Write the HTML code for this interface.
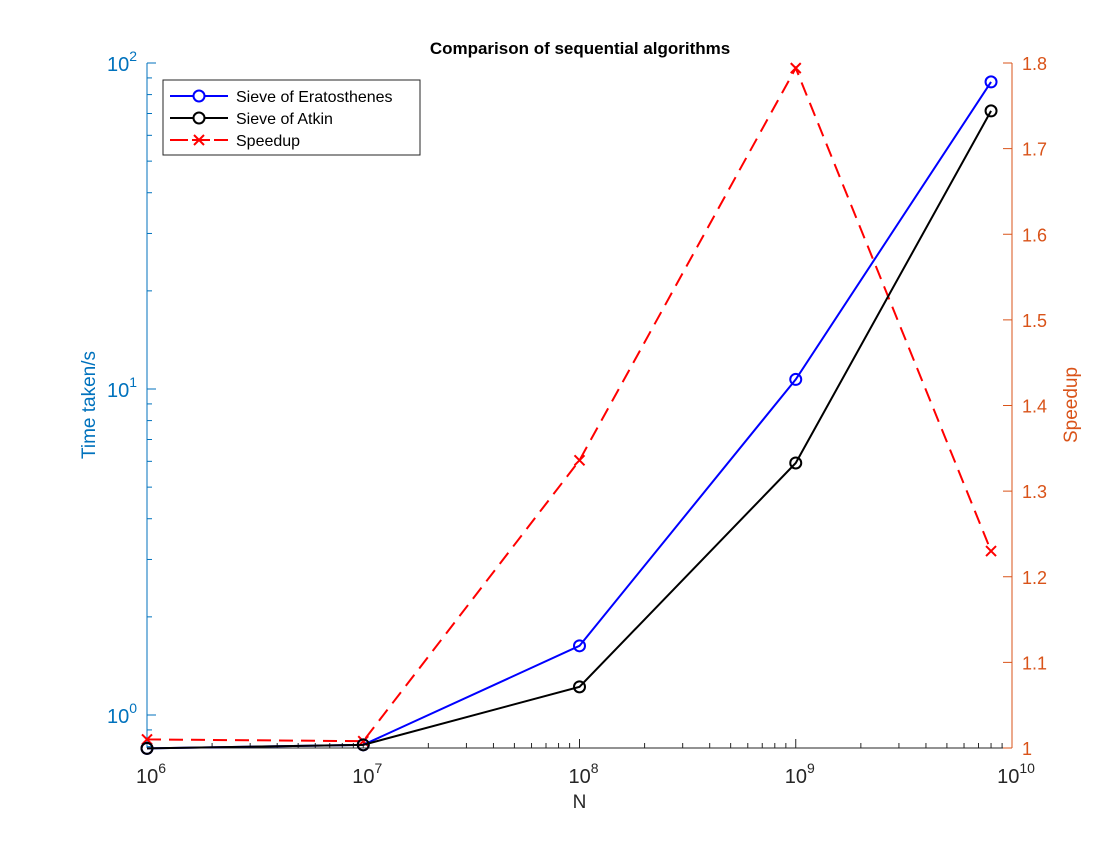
<!DOCTYPE html>
<html><head><meta charset="utf-8"><style>
body{margin:0;background:#fff;}
svg text{font-family:"Liberation Sans",Arial,sans-serif;}
</style></head><body>
<svg id="chart" width="1120" height="840" viewBox="0 0 1120 840" xmlns="http://www.w3.org/2000/svg">
<rect width="1120" height="840" fill="#fff"/>
<g id="g"></g>
</svg>
<script>
const xVals = [1e6, 1e7, 1e8, 1e9, 8e9];
const eratosthenes = [0.79, 0.81, 1.63, 10.7, 87.5];
const atkin = [0.79, 0.81, 1.22, 5.93, 71.3];
const speedup = [1.01, 1.008, 1.336, 1.794, 1.23];
const xTickExp = [6, 7, 8, 9, 10];
const yLeftExp = [0, 1, 2];
const yRightTicks = [1, 1.1, 1.2, 1.3, 1.4, 1.5, 1.6, 1.7, 1.8];

const L=147,R=1012,T=63,B=748;
const NS='http://www.w3.org/2000/svg';
const g=document.getElementById('g');
function sx(v){return L+(Math.log10(v)-6)*(R-L)/4;}
function syL(v){return 715-Math.log10(v)*326;}
function syR(v){return B-(v-1)*(B-T)/0.8;}
function el(tag,attrs,parent){const e=document.createElementNS(NS,tag);for(const k in attrs)e.setAttribute(k,attrs[k]);(parent||g).appendChild(e);return e;}
const blueAx='#0072bd',orangeAx='#d95319';

// x axis
let xa=el('g',{});


el('line',{x1:L,y1:B,x2:R,y2:B,stroke:'#262626','stroke-width':1},xa);
for(let e=6;e<10;e++){for(let m=2;m<10;m++){const x=sx(m*Math.pow(10,e));el('line',{x1:x,y1:B,x2:x,y2:B-5,stroke:'#262626'},xa);}}
xTickExp.forEach(e=>{const x=sx(Math.pow(10,e));el('line',{x1:x,y1:B,x2:x,y2:B-9,stroke:'#262626'},xa);
 const t=el('text',{x:x+4,y:B+35,'font-size':20,fill:'#262626','text-anchor':'middle'},xa);
 
 
 t.innerHTML='10<tspan dy="-10" font-size="14">'+e+'</tspan>';});
let xl=el('text',{x:(L+R)/2,y:808,'font-size':19,fill:'#262626','text-anchor':'middle'});


xl.textContent='N';

// left axis
let la=el('g',{});


el('line',{x1:L,y1:T,x2:L,y2:B,stroke:blueAx},la);
for(let e=-1;e<2;e++){for(let m=2;m<10;m++){const v=m*Math.pow(10,e);const y=syL(v);if(y<=B&&y>=T)el('line',{x1:L,y1:y,x2:L+5,y2:y,stroke:blueAx},la);}}
yLeftExp.forEach(e=>{const y=syL(Math.pow(10,e));el('line',{x1:L,y1:y,x2:L+9,y2:y,stroke:blueAx},la);
 const t=el('text',{x:L-10,y:y+8,'font-size':20,fill:blueAx,'text-anchor':'end'},la);
 
 
 t.innerHTML='10<tspan dy="-10" font-size="14">'+e+'</tspan>';});
let yl=el('text',{x:0,y:0,'font-size':19,fill:blueAx,'text-anchor':'middle',transform:'translate(95,405) rotate(-90)'});


yl.textContent='Time taken/s';

// right axis
let ra=el('g',{});


el('line',{x1:R,y1:T,x2:R,y2:B,stroke:orangeAx},ra);
yRightTicks.forEach(v=>{const y=syR(v);el('line',{x1:R,y1:y,x2:R-9,y2:y,stroke:orangeAx},ra);
 const t=el('text',{x:R+10,y:y+7,'font-size':18,fill:orangeAx},ra);
 
 
 t.textContent=String(v);});
let yr=el('text',{x:0,y:0,'font-size':19,fill:orangeAx,'text-anchor':'middle',transform:'translate(1077,405) rotate(-90)'});


yr.textContent='Speedup';

let title=el('text',{x:580,y:54,'font-size':17,'font-weight':'bold',fill:'#000','text-anchor':'middle'});


title.textContent='Comparison of sequential algorithms';

function series(vals,fy,color,name,dash,marker){
 const sg=el('g',{});
 
 
 const pts=vals.map((v,i)=>sx(xVals[i])+','+fy(v)).join(' ');
 const a={points:pts,fill:'none',stroke:color,'stroke-width':2};
 if(dash)a['stroke-dasharray']=dash;
 el('polyline',a,sg);
 vals.forEach((v,i)=>{const x=sx(xVals[i]),y=fy(v);
  if(marker==='o')el('circle',{cx:x,cy:y,r:5.5,fill:'none',stroke:color,'stroke-width':2},sg);
  else el('path',{d:`M${x-5},${y-5}L${x+5},${y+5}M${x-5},${y+5}L${x+5},${y-5}`,stroke:color,'stroke-width':2},sg);});
}
series(speedup,syR,'#ff0000','speedup-series','14,8','x');
series(eratosthenes,syL,'#0000ff','eratosthenes-series',null,'o');
series(atkin,syL,'#000000','atkin-series',null,'o');

// legend
const lg=el('g',{});


el('rect',{x:163,y:80,width:257,height:75,fill:'#fff',stroke:'#262626','stroke-width':1},lg);
const items=[['Sieve of Eratosthenes','#0000ff','o',null],['Sieve of Atkin','#000','o',null],['Speedup','#ff0000','x','14,8']];
items.forEach((it,i)=>{const y=96+i*22;
 const eg=el('g',{},lg);
 
 
 const a={x1:170,y1:y,x2:228,y2:y,stroke:it[1],'stroke-width':2};if(it[3])a['stroke-dasharray']='18,4';
 el('line',a,eg);
 if(it[2]==='o')el('circle',{cx:199,cy:y,r:5.5,fill:'#fff',stroke:it[1],'stroke-width':2},eg);
 else el('path',{d:`M194,${y-5}L204,${y+5}M194,${y+5}L204,${y-5}`,stroke:it[1],'stroke-width':2},eg);
 const t=el('text',{x:236,y:y+6,'font-size':16,fill:'#000'},eg);t.textContent=it[0];});
</script>
</body></html>
